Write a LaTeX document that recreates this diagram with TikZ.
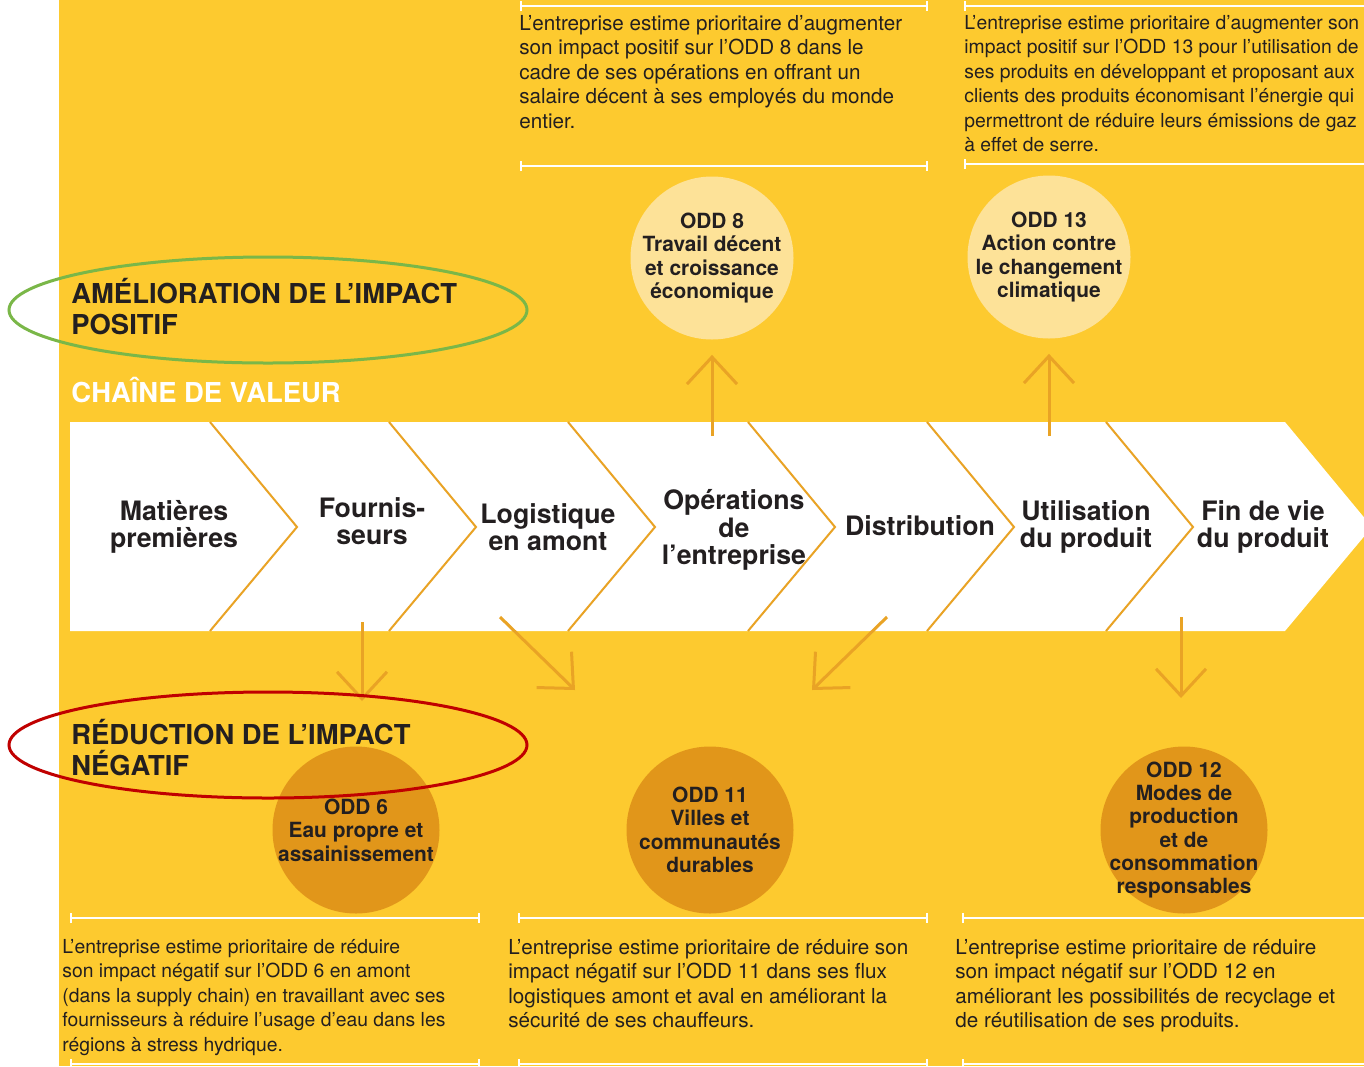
\documentclass[tikz,border=0pt]{standalone}
\usepackage{fontspec}
\setmainfont{TeX Gyre Heros}
\usetikzlibrary{arrows.meta}
\definecolor{fondjaune}{HTML}{FDCA2F}
\definecolor{cerclclair}{HTML}{FDE298}
\definecolor{cerclfonce}{HTML}{E1961A}
\definecolor{orangetrait}{HTML}{E9A325}
\definecolor{vertcadre}{HTML}{7AB748}
\definecolor{rougecadre}{HTML}{C00000}
\definecolor{texte}{HTML}{231F20}
\begin{document}
\begin{tikzpicture}[x=0.2mm, y=-0.2mm,
  corps/.style={anchor=north west, inner sep=0pt, align=left, text=texte,
    font=\fontsize{11.75pt}{13.9pt}\selectfont},
  corpsserre/.style={corps, font=\fontsize{11pt}{13.9pt}\selectfont},
  titre/.style={anchor=base west, inner sep=0pt, align=left, text=texte,
    font=\fontsize{15.6pt}{17.6pt}\selectfont\bfseries},
  etape/.style={inner sep=0pt, align=center, text=texte,
    font=\fontsize{15.2pt}{15.6pt}\selectfont\bfseries},
  oddtexte/.style={inner sep=0pt, align=center, text=texte,
    font=\fontsize{11.9pt}{13.3pt}\selectfont\bfseries},
  oddclair/.style={circle, fill=cerclclair, inner sep=0pt, minimum size=32.6mm},
  oddfonce/.style={circle, fill=cerclfonce, inner sep=0pt, minimum size=33.4mm},
  filet/.style={white, line width=0.4mm, {Bar[width=2mm]}-{Bar[width=2mm]}},
  filetouvert/.style={white, line width=0.4mm, {Bar[width=2mm]}-},
  chevron/.style={orangetrait, line width=0.4mm},
  fleche/.style={orangetrait, line width=0.6mm, -{Straight Barb[length=5.4mm, width=10mm]}},
  cadre/.style={line width=0.6mm}]
\useasboundingbox (0,0) rectangle (1364,1066);
\fill[white] (0,0) rectangle (1364,1066);
\fill[fondjaune] (59,0) rectangle (1364,1066);

% textes du haut
\draw[filet] (520,6) -- (928,6);
\draw[filet] (520,166) -- (928,166);
\node[corps] (txt8) at (519,15) {L’entreprise estime prioritaire d’augmenter\\son impact positif sur l’ODD 8 dans le\\cadre de ses opérations en offrant un\\salaire décent à ses employés du monde\\entier.};
\draw[filetouvert] (964,6) -- (1364,6);
\draw[filetouvert] (964,164) -- (1364,164);
\node[corpsserre] (txt13) at (964,15) {L’entreprise estime prioritaire d’augmenter son\\impact positif sur l’ODD 13 pour l’utilisation de\\ses produits en développant et proposant aux\\clients des produits économisant l’énergie qui\\permettront de réduire leurs émissions de gaz\\à effet de serre.};

% ODD positifs
\node[oddclair] (odd8) at (712,258) {};
\node[oddtexte] at (odd8) {ODD 8\\Travail décent\\et croissance\\économique};
\node[oddclair] (odd13) at (1049,257) {};
\node[oddtexte] at (odd13) {ODD 13\\Action contre\\le changement\\climatique};

% chaine de valeur
\fill[white] (70,422) -- (1285,422) -- (1372,527) -- (1285,631) -- (70,631) -- cycle;
\foreach \x in {210,389,568,748,927,1106}
  \draw[chevron] (\x,422) -- (\x+87,527) -- (\x,631);
\node[etape] (matieres) at (174,527) {Matières\\premières};
\node[etape] (fournisseurs) at (372,521) {Fournis-\\seurs};
\node[etape] (logistique) at (548,527) {Logistique\\en amont};
\node[etape] (operations) at (734,530) {Opérations\\de\\l’entreprise};
\node[etape] (distribution) at (920,526) {Distribution};
\node[etape] (utilisation) at (1086,527) {Utilisation\\du produit};
\node[etape] (findevie) at (1263,527) {Fin de vie\\du produit};

% fleches
\coordinate (dep8) at (712,436);
\coordinate (dep13) at (1049,436);
\draw[fleche, shorten >=3mm] (dep8) -- (odd8.south);
\draw[fleche, shorten >=3mm] (dep13) -- (odd13.south);
\coordinate (dep6) at (362,622);
\coordinate (fin6) at (362,701);
\coordinate (dep11a) at (500,617);
\coordinate (fin11a) at (575,690);
\coordinate (dep11b) at (887,617);
\coordinate (fin11b) at (812,690);
\coordinate (dep12) at (1181,617);
\coordinate (fin12) at (1181,698);
\draw[fleche] (dep6) -- (fin6);
\draw[fleche] (dep11a) -- (fin11a);
\draw[fleche] (dep11b) -- (fin11b);
\draw[fleche] (dep12) -- (fin12);

% ODD negatifs
\node[oddfonce] (odd6) at (356,830) {};
\node[oddtexte] at (odd6) {ODD 6\\Eau propre et\\assainissement};
\node[oddfonce] (odd11) at (710,830) {};
\node[oddtexte] at (odd11) {ODD 11\\Villes et\\communautés\\durables};
\node[oddfonce] (odd12) at (1184,830) {};
\node[oddtexte] at (odd12) {ODD 12\\Modes de\\production\\et de\\consommation\\responsables};

% textes du bas
\draw[filet] (70,918) -- (480,918);
\draw[filet] (70,1064) -- (480,1064);
\node[corpsserre] (txt6) at (62,939) {L’entreprise estime prioritaire de réduire\\son impact négatif sur l’ODD 6 en amont\\(dans la supply chain) en travaillant avec ses\\fournisseurs à réduire l’usage d’eau dans les\\régions à stress hydrique.};
\draw[filet] (518,918) -- (928,918);
\draw[filet] (518,1064) -- (928,1064);
\node[corps] (txt11) at (508,939) {L’entreprise estime prioritaire de réduire son\\impact négatif sur l’ODD 11 dans ses flux\\logistiques amont et aval en améliorant la\\sécurité de ses chauffeurs.};
\draw[filetouvert] (962,918) -- (1364,918);
\draw[filetouvert] (962,1064) -- (1364,1064);
\node[corps] (txt12) at (955,939) {L’entreprise estime prioritaire de réduire\\son impact négatif sur l’ODD 12 en\\améliorant les possibilités de recyclage et\\de réutilisation de ses produits.};

% titres
\node[titre] (amelioration) at (71,334) {AMÉLIORATION DE L’IMPACT\\POSITIF};
\node[titre, text=white] (chaine) at (71,402) {CHAÎNE DE VALEUR};
\node[titre] (reduction) at (71,775) {RÉDUCTION DE L’IMPACT\\NÉGATIF};
\draw[cadre, vertcadre] (268,310) ellipse [x radius=51.8mm, y radius=10.6mm];
\draw[cadre, rougecadre] (268,745) ellipse [x radius=51.8mm, y radius=10.6mm];
\end{tikzpicture}
\end{document}
